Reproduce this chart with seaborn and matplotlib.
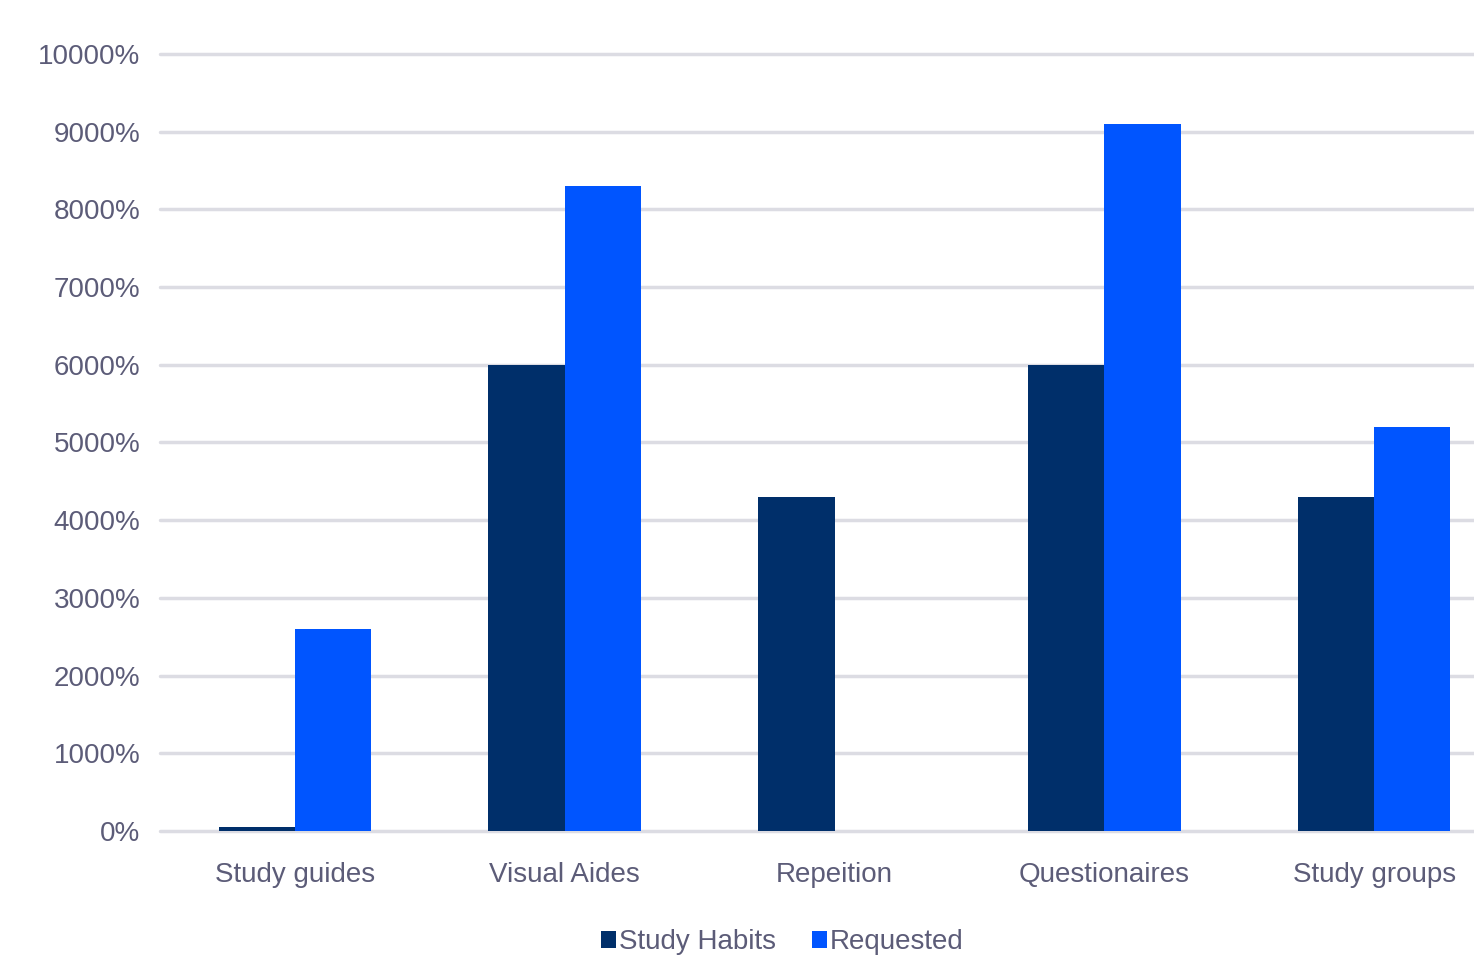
import matplotlib
matplotlib.use("Agg")
import matplotlib.pyplot as plt
import pandas as pd
import seaborn as sns

# values (percent)
categories = ["Study guides", "Visual Aides", "Repeition", "Questionaires", "Study groups"]
study_habits = [50, 6000, 4300, 6000, 4300]
requested = [2600, 8300, 0, 9100, 5200]
series_names = ["Study Habits", "Requested"]
y_ticks = [0, 1000, 2000, 3000, 4000, 5000, 6000, 7000, 8000, 9000, 10000]

df = pd.DataFrame({
    "category": categories * 2,
    "series": [series_names[0]] * len(categories) + [series_names[1]] * len(categories),
    "value": study_habits + requested,
})

sns.set_theme(style="white")
plt.rcParams["font.family"] = ["Liberation Sans", "DejaVu Sans"]
text_col = "#5c5c78"
grid_col = "#dcdce3"

fig = plt.figure(figsize=(14.74, 9.63), dpi=100)
# right edge of the plot is cut off in the reference, so the axes runs past the figure
ax = fig.add_axes([160 / 1474, (963 - 831) / 963, 1349 / 1474, 777 / 963])

sns.barplot(data=df, x="category", y="value", hue="series", order=categories,
            hue_order=series_names, palette=["#002f6a", "#0055ff"],
            width=0.565, saturation=1, linewidth=0, ax=ax, legend=True, zorder=3)

ax.set_ylim(0, 10000)
ax.set_xlim(-0.5, 4.5)
ax.set_yticks(y_ticks)
ax.set_yticklabels([f"{t}%" for t in y_ticks])
for t in y_ticks:
    ax.axhline(t, color=grid_col, lw=2.5, zorder=1, clip_on=False)
ax.set_xlabel("")
ax.set_ylabel("")
sns.despine(ax=ax, left=True, bottom=True, top=True, right=True)
ax.tick_params(axis="y", length=0, pad=14, labelsize=20, labelcolor=text_col)
ax.tick_params(axis="x", length=0, pad=22, labelsize=20, labelcolor=text_col)

handles, labels = ax.get_legend_handles_labels()
ax.get_legend().remove()
fig.legend(handles, labels, loc="center", bbox_to_anchor=(782 / 1474, 1 - 942 / 963),
           ncol=2, frameon=False, fontsize=20, labelcolor=text_col,
           handlelength=0.55, handleheight=0.55, handletextpad=0.1,
           columnspacing=1.3)

fig.savefig("out.png", dpi=100)
